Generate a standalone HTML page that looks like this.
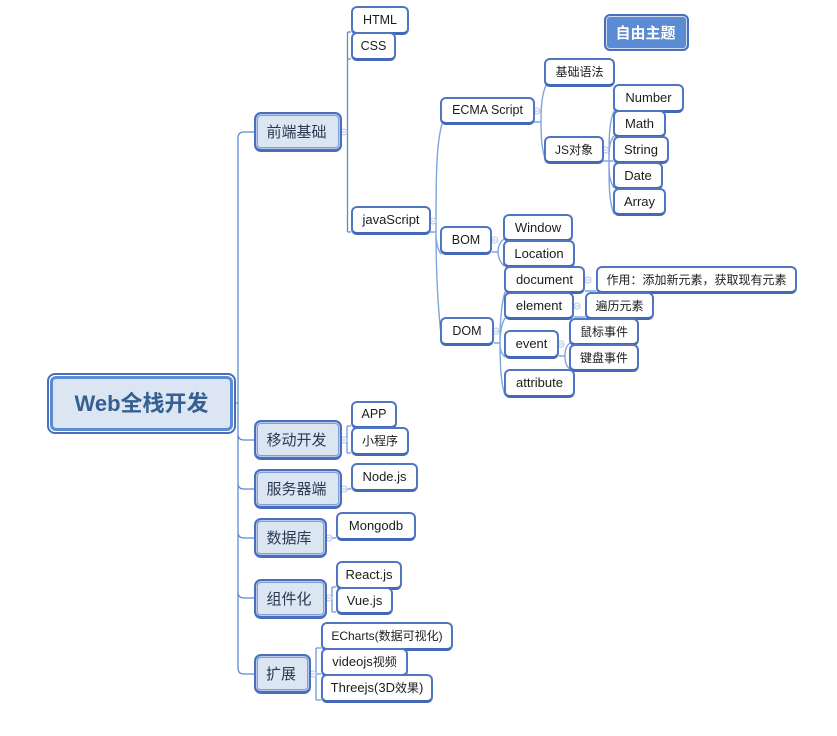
<!DOCTYPE html>
<html>
<head>
<meta charset="utf-8">
<style>
html,body{margin:0;padding:0;background:#fff;}
#c{position:relative;width:837px;height:736px;overflow:hidden;background:#fff;font-family:"Liberation Sans","Noto Sans CJK SC",sans-serif;}
svg{position:absolute;left:0;top:0;}
.n{position:absolute;box-sizing:border-box;display:flex;align-items:center;justify-content:center;white-space:pre;}
.l{background:#fff;border:2px solid #5075c2;border-bottom:3px solid #4468b8;border-radius:6px;font-size:13px;color:#1c1c1c;padding-bottom:1px;}
.z{font-size:12px;}
.x{font-size:12.500px;}
.m{background:#dce6f3;border:2px solid #4a6ebc;border-bottom-width:3px;border-radius:7px;box-shadow:inset 0 0 0 1px #b8caea,inset 0 0 0 2px #7f9fd6;font-size:15px;color:#2b3a52;padding-right:3px;}
</style>
</head>
<body>
<div id="c">
<svg width="837" height="736" fill="none">
<g stroke="#5b8bd3" stroke-width="1.300">
<path d="M235 403H238M238 403V138Q238 132 244 132H254M238 403V668Q238 674 244 674H254M238 434Q238 440 244 440H254M238 483Q238 489 244 489H254M238 532Q238 538 244 538H254M238 592Q238 598 244 598H254"/>
<path d="M342 132H347.500M347.500 32V232M347.500 32H351M347.500 59H351M347.500 232H351"/>
<path d="M341 440H347M347 426V453M347 426H351M347 453H351M341 489H351M326 538H336M326 598H332M332 587V612M332 587H336M332 612H336M310 674H316M316 648V700M316 648H321M316 674H321M316 700H321" stroke="#6f97d8"/>
</g>
<g stroke="#7fa5e0" stroke-width="1.400">
<path d="M430 232H436M436 232C436 180 436 145 442 124M436 232C436 243 438 250 441 254M436 232C436 275 438 310 442 344"/>
<path d="M534 122H541M541 122C541 105 542 95 546 85M541 122C541 140 542 150 546 162"/>
<path d="M603 161H613M609 161C609 140 609 122 614 111M609 161C609 150 609 142 614 136M609 161C609 172 609 180 614 188M609 161C609 185 609 202 614 214"/>
<path d="M492 252H498M498 252C498 246 500 242 504 239M498 252C498 258 500 262 504 266"/>
<path d="M494 343H500M500 343C500 325 501 305 505 292M500 343C500 335 501 325 505 318M500 343C500 350 501 353 505 357M500 343C500 365 501 385 505 395"/>
<path d="M585 291H596M574 317H585M559 356H565M565 356C565 350 566 346 570 343M565 356C565 362 566 366 570 369"/>
</g>
<g stroke="#b0c6ec" stroke-width="1" fill="#fff">
<circle cx="344" cy="132" r="3"/><circle cx="344" cy="440" r="3"/><circle cx="344" cy="489" r="3"/>
<circle cx="329" cy="538" r="3"/><circle cx="329" cy="598" r="3"/><circle cx="313" cy="674" r="3"/>
<circle cx="433" cy="221" r="3"/><circle cx="537" cy="111" r="3"/><circle cx="605.500" cy="150" r="3"/>
<circle cx="495" cy="240" r="3"/><circle cx="496" cy="331" r="3"/><circle cx="588" cy="280" r="3"/>
<circle cx="577" cy="306" r="3"/><circle cx="561" cy="344" r="3"/>
</g>
<path d="M342 132h4M342 440h4M342 489h4M327 538h4M327 598h4M311 674h4M431 221h4M535 111h4M603.500 150h4M493 240h4M494 331h4M586 280h4M575 306h4M559 344h4" stroke="#b0c6ec" stroke-width="1"/>
</svg>

<div class="n" style="left:47px;top:373px;width:189px;height:61px;border:2px solid #4a6ebc;border-radius:8px;background:#fff;"></div>
<div class="n" style="left:50px;top:376px;width:183px;height:55px;border:3px solid #5b8bd3;border-radius:6px;background:#dce6f3;font-size:22px;font-weight:bold;color:#365f91;padding-bottom:4px;">Web全栈开发</div>

<div class="n m" style="left:254px;top:112px;width:88px;height:40px;">前端基础</div>
<div class="n m" style="left:254px;top:420px;width:88px;height:40px;">移动开发</div>
<div class="n m" style="left:254px;top:469px;width:88px;height:40px;">服务器端</div>
<div class="n m" style="left:254px;top:518px;width:73px;height:40px;">数据库</div>
<div class="n m" style="left:254px;top:579px;width:73px;height:40px;">组件化</div>
<div class="n m" style="left:254px;top:654px;width:57px;height:40px;">扩展</div>

<div class="n l x" style="left:351px;top:6px;width:58px;height:29px;">HTML</div>
<div class="n l x" style="left:351px;top:32px;width:45px;height:29px;">CSS</div>
<div class="n l" style="left:351px;top:206px;width:80px;height:29px;">javaScript</div>
<div class="n l x" style="left:440px;top:97px;width:95px;height:28px;">ECMA Script</div>
<div class="n l z" style="left:544px;top:58px;width:71px;height:29px;">基础语法</div>
<div class="n l z" style="left:544px;top:136px;width:60px;height:28px;">JS对象</div>
<div class="n l" style="left:613px;top:84px;width:71px;height:29px;">Number</div>
<div class="n l" style="left:613px;top:110px;width:53px;height:28px;">Math</div>
<div class="n l" style="left:613px;top:136px;width:56px;height:28px;">String</div>
<div class="n l" style="left:613px;top:162px;width:50px;height:28px;">Date</div>
<div class="n l" style="left:613px;top:188px;width:53px;height:28px;">Array</div>
<div class="n l x" style="left:440px;top:226px;width:52px;height:29px;">BOM</div>
<div class="n l" style="left:503px;top:214px;width:70px;height:28px;">Window</div>
<div class="n l" style="left:503px;top:240px;width:72px;height:28px;">Location</div>
<div class="n l" style="left:504px;top:266px;width:81px;height:28px;">document</div>
<div class="n l z" style="left:596px;top:266px;width:201px;height:28px;">作用：添加新元素，获取现有元素</div>
<div class="n l z" style="left:585px;top:292px;width:69px;height:28px;">遍历元素</div>
<div class="n l" style="left:504px;top:292px;width:70px;height:28px;">element</div>
<div class="n l x" style="left:440px;top:317px;width:54px;height:29px;">DOM</div>
<div class="n l" style="left:504px;top:330px;width:55px;height:29px;">event</div>
<div class="n l z" style="left:569px;top:318px;width:70px;height:28px;">鼠标事件</div>
<div class="n l z" style="left:569px;top:344px;width:70px;height:28px;">键盘事件</div>
<div class="n l" style="left:504px;top:369px;width:71px;height:29px;">attribute</div>
<div class="n l x" style="left:351px;top:401px;width:46px;height:28px;">APP</div>
<div class="n l z" style="left:351px;top:427px;width:58px;height:29px;">小程序</div>
<div class="n l" style="left:351px;top:463px;width:67px;height:29px;">Node.js</div>
<div class="n l" style="left:336px;top:512px;width:80px;height:29px;">Mongodb</div>
<div class="n l" style="left:336px;top:561px;width:66px;height:29px;">React.js</div>
<div class="n l" style="left:336px;top:587px;width:57px;height:28px;">Vue.js</div>
<div class="n l z" style="left:321px;top:622px;width:132px;height:29px;">ECharts(数据可视化)</div>
<div class="n l" style="left:321px;top:648px;width:87px;height:29px;"><span>videojs<span class="z">视频</span></span></div>
<div class="n l" style="left:321px;top:674px;width:112px;height:29px;"><span>Threejs(3D<span class="z">效果</span>)</span></div>

<div class="n" style="left:604px;top:14px;width:85px;height:37px;background:#5b8bd3;border:2px solid #4a6ebc;border-radius:6px;box-shadow:inset 0 0 0 1px #cfdcf2;color:#fff;font-size:15px;font-weight:bold;padding-right:2px;">自由主题</div>
</div>
</body>
</html>
